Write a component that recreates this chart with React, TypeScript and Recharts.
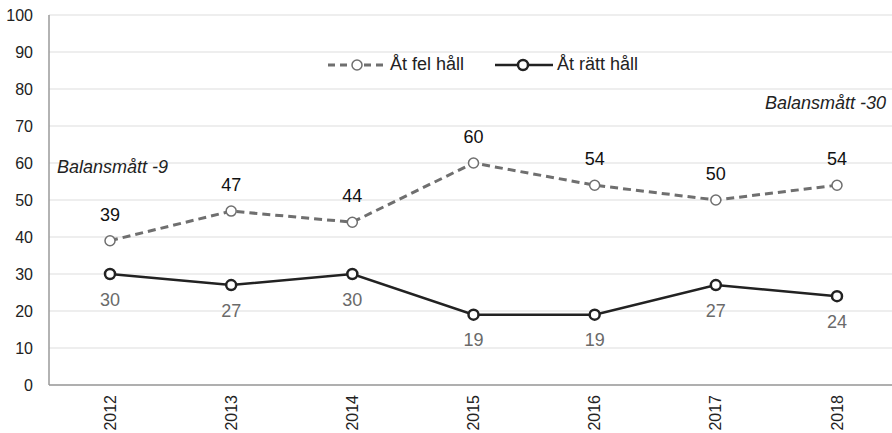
import React from "react";
import { LineChart, Line, XAxis, YAxis, CartesianGrid, LabelList } from "recharts";

const years = ["2012", "2013", "2014", "2015", "2016", "2017", "2018"];
const felHall = [39, 47, 44, 60, 54, 50, 54];
const rattHall = [30, 27, 30, 19, 19, 27, 24];
const yTicks = [0, 10, 20, 30, 40, 50, 60, 70, 80, 90, 100];

const data = years.map((year, i) => ({ year, fel: felHall[i], ratt: rattHall[i] }));

const FONT = "'Liberation Sans', Arial, sans-serif";

function YearTick(props: any) {
  const { x, y, payload } = props;
  return (
    <text
      transform={`translate(${x},${y + 2}) rotate(-90)`}
      textAnchor="end"
      dominantBaseline="central"
      fontSize={16}
      fill="#222"
      fontFamily={FONT}
    >
      {payload.value}
    </text>
  );
}

function LegendBox() {
  const txt = { position: "absolute" as const, top: 54, fontFamily: FONT, fontSize: 18, color: "#222" };
  return (
    <>
      <svg width={60} height={20} style={{ position: "absolute", left: 327, top: 55 }}>
        <line x1={1} y1={10} x2={59} y2={10} stroke="#6f6f6f" strokeWidth={3} strokeDasharray="7 5" />
        <circle cx={30} cy={10} r={5} fill="#fff" stroke="#6f6f6f" strokeWidth={1.5} />
      </svg>
      <span style={{ ...txt, left: 390 }}>Åt fel håll</span>
      <svg width={60} height={20} style={{ position: "absolute", left: 494, top: 55 }}>
        <line x1={1} y1={10} x2={59} y2={10} stroke="#222" strokeWidth={2.5} />
        <circle cx={29} cy={10} r={5} fill="#fff" stroke="#222" strokeWidth={2.5} />
      </svg>
      <span style={{ ...txt, left: 557 }}>Åt rätt håll</span>
    </>
  );
}

export default function App() {
  return (
    <div
      style={{
        position: "absolute",
        left: 0,
        top: 0,
        width: 892,
        height: 433,
        overflow: "hidden",
        background: "#fff",
      }}
    >
      <LineChart width={898} height={433} data={data} margin={{ top: 15, right: 0, left: 0, bottom: 0 }}>
        <CartesianGrid vertical={false} stroke="#e9e9e9" strokeWidth={1.5} />
        <XAxis
          dataKey="year"
          height={48}
          tick={<YearTick />}
          tickLine={false}
          axisLine={{ stroke: "#9a9a9a", strokeWidth: 1.5 }}
          interval={0}
          padding={{ left: 61, right: 61 }}
        />
        <YAxis
          domain={[0, 100]}
          ticks={yTicks}
          width={49}
          tickLine={false}
          axisLine={{ stroke: "#9a9a9a", strokeWidth: 1.5 }}
          tick={{ fontSize: 16, fill: "#222", fontFamily: FONT }}
          tickMargin={10}
        />
        <Line
          dataKey="fel"
          stroke="#6f6f6f"
          strokeWidth={3}
          strokeDasharray="8 5"
          dot={{ r: 5, fill: "#fff", stroke: "#6f6f6f", strokeWidth: 1.5, strokeDasharray: "" }}
          isAnimationActive={false}
        >
          <LabelList dataKey="fel" position="top" offset={20} fontSize={18} fill="#111" fontFamily={FONT} />
        </Line>
        <Line
          dataKey="ratt"
          stroke="#222"
          strokeWidth={2.5}
          dot={{ r: 5, fill: "#fff", stroke: "#222", strokeWidth: 2.5 }}
          isAnimationActive={false}
        >
          <LabelList dataKey="ratt" position="bottom" offset={19} fontSize={18} fill="#6a6a6a" fontFamily={FONT} />
        </Line>
      </LineChart>
      <LegendBox />
      <div
        style={{
          position: "absolute",
          left: 57,
          top: 157,
          fontFamily: FONT,
          fontSize: 18,
          fontStyle: "italic",
          color: "#222",
        }}
      >
        Balansmått -9
      </div>
      <div
        style={{
          position: "absolute",
          right: 6,
          top: 93,
          fontFamily: FONT,
          fontSize: 18,
          fontStyle: "italic",
          color: "#222",
        }}
      >
        Balansmått -30
      </div>
    </div>
  );
}
